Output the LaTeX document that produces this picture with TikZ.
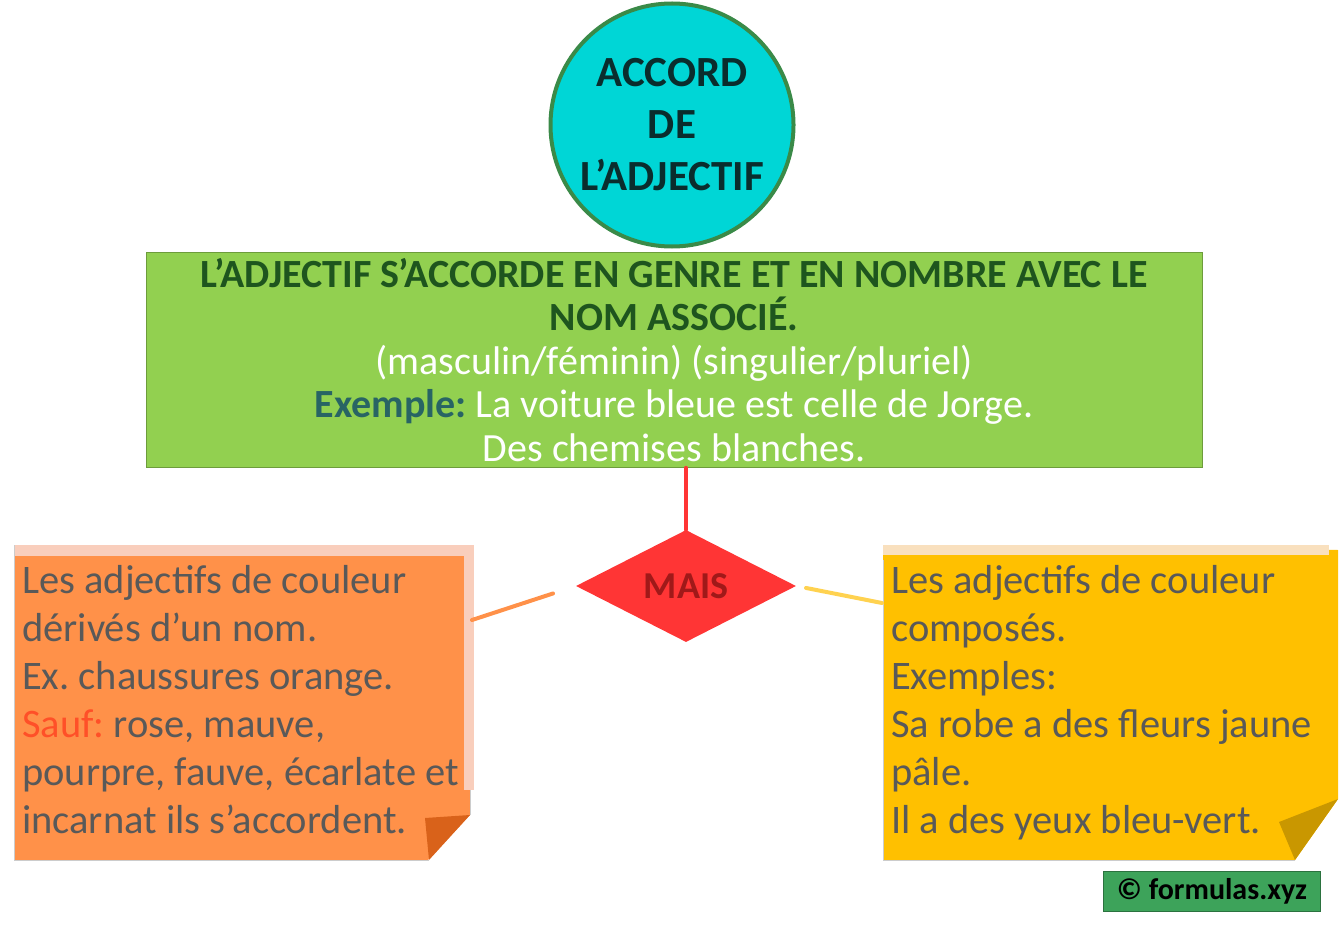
\documentclass[tikz,border=0pt]{standalone}
\usepackage{fontspec}
\setmainfont{Carlito}
\usepackage{tikz}
\usetikzlibrary{shapes.geometric,positioning,calc}
\frenchspacing
\definecolor{titlecyan}{RGB}{0,214,214}
\definecolor{titlegreen}{RGB}{58,138,72}
\definecolor{titletext}{RGB}{10,45,45}
\definecolor{rulegreen}{RGB}{146,208,80}
\definecolor{darkgreen}{RGB}{30,85,30}
\definecolor{exampleteal}{RGB}{40,100,100}
\definecolor{diamondred}{RGB}{255,53,53}
\definecolor{darkred}{RGB}{160,25,25}
\definecolor{noteorange}{RGB}{255,145,73}
\definecolor{foldorange}{RGB}{217,98,26}
\definecolor{stripeorange}{RGB}{249,206,188}
\definecolor{noteyellow}{RGB}{255,192,0}
\definecolor{foldyellow}{RGB}{201,151,0}
\definecolor{stripeyellow}{RGB}{249,224,190}
\definecolor{linkyellow}{RGB}{255,210,80}
\definecolor{notegrey}{RGB}{89,89,89}
\definecolor{saufred}{RGB}{255,80,40}
\definecolor{creditgreen}{RGB}{61,163,90}

\begin{document}
\begin{tikzpicture}[
        x=1pt, y=-1pt,
        titlecircle/.style={circle, draw=titlegreen, line width=4pt, fill=titlecyan,
            minimum size=243pt, inner sep=0pt, align=center, text=titletext,
            font=\fontsize{43}{52}\selectfont\bfseries},
        rulebox/.style={rectangle, fill=rulegreen, draw=rulegreen!75!black, line width=0.6pt,
            minimum width=1056pt, minimum height=215pt, inner sep=0pt, align=center,
            font=\fontsize{40}{43.5}\selectfont},
        choice/.style={diamond, fill=diamondred, minimum width=220pt, minimum height=112pt,
            inner sep=0pt, text=darkred, font=\fontsize{38}{40}\selectfont\bfseries},
        notetext/.style={anchor=north west, align=left, inner sep=0pt, text=notegrey,
            font=\fontsize{40.5}{48}\selectfont},
        link/.style={line width=4pt, line cap=round},
        credit/.style={rectangle, fill=creditgreen, draw=creditgreen!70!black,
            minimum width=217pt, minimum height=40pt, inner sep=0pt,
            font=\fontsize{30}{32}\selectfont\bfseries}
    ]
    \useasboundingbox (0,0) rectangle (1340,928);

    % Title and rule
    \node[titlecircle] (titre) at (672,125) {ACCORD\\DE\\L’ADJECTIF};
    \node[rulebox] (regle) at (674,360) {%
        \textcolor{darkgreen}{\bfseries L’ADJECTIF S’ACCORDE EN GENRE ET EN NOMBRE AVEC LE}\\
        \textcolor{darkgreen}{\bfseries NOM ASSOCIÉ.}\\
        \textcolor{white}{(masculin/féminin) (singulier/pluriel)}\\
        \textcolor{exampleteal}{\bfseries Exemple:} \textcolor{white}{La voiture bleue est celle de Jorge.}\\
        \textcolor{white}{Des chemises blanches.}};

    % Sticky notes
    \fill[noteorange] (14,545) -- (470,545) -- (470,815) -- (428,860) -- (14,860) -- cycle;
    \fill[stripeorange] (14,545) rectangle (470,556);
    \fill[stripeorange] (464,545) rectangle (474,790);
    \fill[foldorange] (470,815) -- (429,860) -- (425,818) -- cycle;
    \draw[black!20, line width=0.8pt] (14,545) -- (14,860) -- (429,860) (470,790) -- (470,815);

    \fill[noteyellow] (883,545) -- (1338,550) -- (1338,799) -- (1295,860) -- (883,860) -- cycle;
    \fill[stripeyellow] (883,545) rectangle (1329,555);
    \fill[foldyellow] (1338,799) -- (1295,860) -- (1279,822) -- cycle;
    \draw[black!20, line width=0.8pt] (883,560) -- (883,860) -- (1295,860);

    \node[notetext] (gauche) at (22,565) {Les adjectifs de couleur\\
        dérivés d’un nom.\\
        Ex. chaussures orange.\\
        \textcolor{saufred}{Sauf:} rose, mauve,\\
        pourpre, fauve, écarlate et\\
        incarnat ils s’accordent.};
    \node[notetext] (droite) at (891,565) {Les adjectifs de couleur\\
        composés.\\
        Exemples:\\
        Sa robe a des fleurs jaune\\
        pâle.\\
        Il a des yeux bleu-vert.};

    \node[choice] (choix) at (686,586) {MAIS};
    \coordinate (gbord) at (472,620);
    \coordinate (dbord) at (882,603);

    % Connections
    \draw[link, draw=diamondred] (choix.north) -- (choix.north |- regle.south);
    \draw[link, draw=noteorange, shorten <=24pt] (choix.west) -- (gbord);
    \draw[link, draw=linkyellow, shorten <=10pt] (choix.east) -- (dbord);

    \node[credit] (source) at (1212,891) {© formulas.xyz};
\end{tikzpicture}
\end{document}
